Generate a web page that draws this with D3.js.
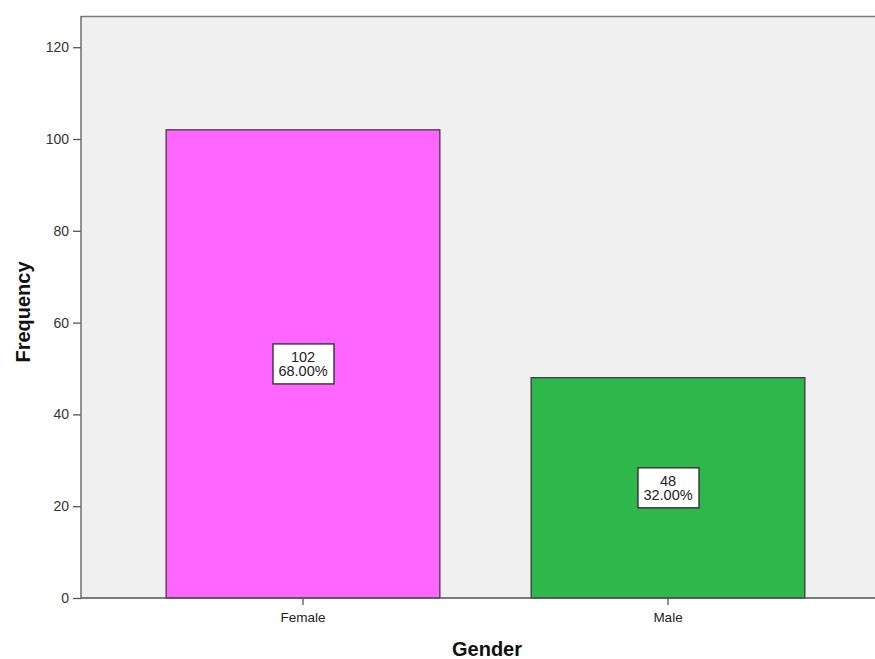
<!DOCTYPE html>
<html>
<head>
<meta charset="utf-8">
<script src="https://cdn.jsdelivr.net/npm/d3@7"></script>
<style>
  html, body { margin: 0; padding: 0; background: #ffffff; }
  svg { display: block; }
</style>
</head>
<body>
<svg id="chart" width="875" height="659"></svg>
<script>
// Gender frequency counts
const categories = ["Female", "Male"];
const counts = [102, 48];
const percents = ["68.00%", "32.00%"];
const yTicks = [0, 20, 40, 60, 80, 100, 120];
const barColors = ["#ff66ff", "#2eb84b"];

const svg = d3.select("#chart");
const plot = { left: 81, top: 16, right: 900, bottom: 598 };
const font = "'Liberation Sans', Arial, sans-serif";

const y = d3.scaleLinear()
  .domain([0, 126.8])
  .range([plot.bottom, plot.top]);

const x = d3.scaleBand()
  .domain(categories)
  .range([120.5, 850.5])
  .paddingInner(0.25)
  .paddingOuter(0.125);

// plot background and frame
svg.append("rect")
  .attr("x", plot.left).attr("y", plot.top)
  .attr("width", plot.right - plot.left).attr("height", plot.bottom - plot.top)
  .attr("fill", "#f0f0f0");
svg.append("line")
  .attr("x1", plot.left).attr("x2", plot.right)
  .attr("y1", plot.top + 0.5).attr("y2", plot.top + 0.5)
  .attr("stroke", "#7a7a7a").attr("stroke-width", 1.5);

// bars
svg.append("g").selectAll("rect")
  .data(categories)
  .join("rect")
  .attr("x", d => x(d))
  .attr("y", (d, i) => y(counts[i]))
  .attr("width", x.bandwidth())
  .attr("height", (d, i) => y(0) - y(counts[i]))
  .attr("fill", (d, i) => barColors[i])
  .attr("stroke", "#3a2a3a")
  .attr("stroke-width", 1.2);

// y axis
const yAxis = svg.append("g")
  .attr("transform", `translate(${plot.left},0)`)
  .call(d3.axisLeft(y).tickValues(yTicks).tickSize(8).tickSizeOuter(0).tickFormat(d3.format("d")));
yAxis.select(".domain").remove();
yAxis.selectAll(".tick line").attr("stroke", "#555").attr("stroke-width", 1.3);
yAxis.selectAll(".tick text")
  .attr("x", -12)
  .attr("fill", "#333")
  .style("font-family", font)
  .style("font-size", "14px");
svg.append("line")
  .attr("x1", plot.left).attr("x2", plot.left)
  .attr("y1", plot.top).attr("y2", plot.bottom)
  .attr("stroke", "#6e6e6e").attr("stroke-width", 1.5);

// x axis
const xAxis = svg.append("g")
  .attr("transform", `translate(0,${plot.bottom})`)
  .call(d3.axisBottom(x).tickSize(7).tickSizeOuter(0));
xAxis.select(".domain").remove();
xAxis.selectAll(".tick line").attr("stroke", "#555").attr("stroke-width", 1.3);
xAxis.selectAll(".tick text")
  .attr("y", 14)
  .attr("fill", "#222")
  .style("font-family", font)
  .style("font-size", "13.5px");
svg.append("line")
  .attr("x1", plot.left).attr("x2", plot.right)
  .attr("y1", plot.bottom).attr("y2", plot.bottom)
  .attr("stroke", "#555").attr("stroke-width", 1.5);

// value labels in the middle of each bar
const labels = svg.append("g").selectAll("g")
  .data(categories)
  .join("g")
  .attr("transform", (d, i) => `translate(${x(d) + x.bandwidth() / 2},${y(counts[i] / 2)})`);
labels.append("rect")
  .attr("x", -30).attr("y", -20)
  .attr("width", 61).attr("height", 40)
  .attr("fill", "#ffffff")
  .attr("stroke", "#333")
  .attr("stroke-width", 1.4);
labels.append("text")
  .attr("text-anchor", "middle")
  .attr("y", -2)
  .style("font-family", font)
  .style("font-size", "14.5px")
  .attr("fill", "#222")
  .text((d, i) => counts[i]);
labels.append("text")
  .attr("text-anchor", "middle")
  .attr("y", 12.5)
  .style("font-family", font)
  .style("font-size", "14.5px")
  .attr("fill", "#222")
  .text((d, i) => percents[i]);

// axis titles
svg.append("text")
  .attr("transform", "translate(30,312) rotate(-90)")
  .attr("text-anchor", "middle")
  .style("font-family", font)
  .style("font-size", "20px")
  .style("font-weight", "bold")
  .attr("fill", "#111")
  .text("Frequency");
svg.append("text")
  .attr("x", 487).attr("y", 656)
  .attr("text-anchor", "middle")
  .style("font-family", font)
  .style("font-size", "20px")
  .style("font-weight", "bold")
  .attr("fill", "#111")
  .text("Gender");
</script>
</body>
</html>
